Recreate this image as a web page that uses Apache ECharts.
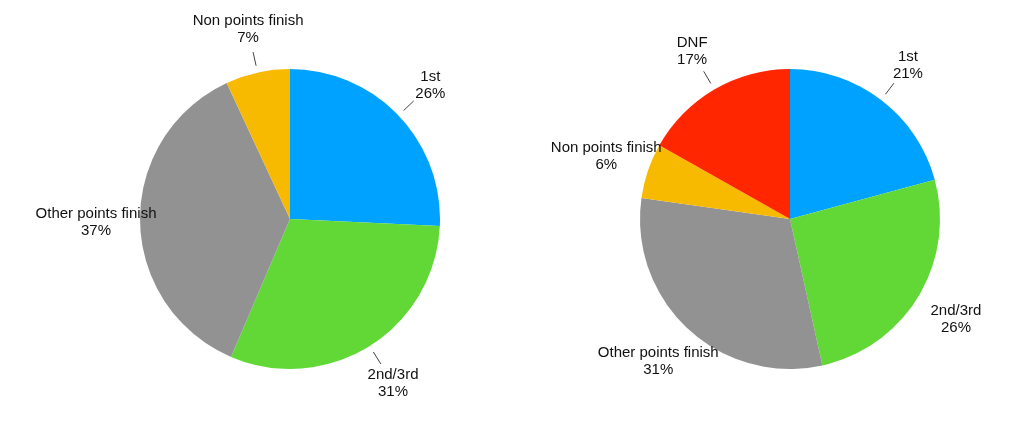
<!DOCTYPE html>
<html lang="en">

<head>
	<meta charset="UTF-8">
	<title>pie_results</title>
	<style>
		html, body { margin: 0; padding: 0; background: #FFF; }
	</style>
</head>

<body>
	<div id="chart" style="height:447px;width:1024px;"></div>
</body>
<script type="text/javascript" src="https://cdn.jsdelivr.net/npm/echarts@6/dist/echarts.min.js"></script>
<script type="text/javascript">
	// 左边饼图
	let leftNames = ['1st', '2nd/3rd', 'Other points finish', 'Non points finish'];
	let leftValues = [26, 31, 37, 7];
	let leftColors = ['#00A2FF', '#61D836', '#929292', '#F8BA00'];
	// 右边饼图
	let rightNames = ['1st', '2nd/3rd', 'Other points finish', 'Non points finish', 'DNF'];
	let rightValues = [21, 26, 31, 6, 17];
	let rightColors = ['#00A2FF', '#61D836', '#929292', '#F8BA00', '#FF2600'];

	const RADIUS = 150;
	const LABEL_DIST = 44;   // 标签中心到饼边缘的距离
	const LINE_FROM = 7;
	const LINE_TO = 21;

	let myChart = echarts.init(document.getElementById('chart'));

	function toData(names, values, colors) {
		return names.map(function (n, i) {
			return { name: n, value: values[i], itemStyle: { color: colors[i] } };
		});
	}

	// 把标签放到径向方向上, 文字居中; 标签压住饼或者太横的时候不画线
	function placeLabel(params) {
		let pts = params.labelLinePoints;
		if (!pts) return {};
		let p0 = pts[0], p1 = pts[1];
		let dx = p1[0] - p0[0], dy = p1[1] - p0[1];
		let len = Math.sqrt(dx * dx + dy * dy) || 1;
		dx /= len; dy /= len;
		let ox = p0[0] - dx * RADIUS, oy = p0[1] - dy * RADIUS; // 圆心
		let cx = p0[0] + dx * LABEL_DIST;
		let cy = p0[1] + dy * LABEL_DIST;
		let w = params.labelRect.width, h = params.labelRect.height;
		let a = [p0[0] + dx * LINE_FROM, p0[1] + dy * LINE_FROM];
		let b = [p0[0] + dx * LINE_TO, p0[1] + dy * LINE_TO];
		// 文字框离圆心最近的点
		let nx = Math.min(Math.max(ox, cx - w / 2), cx + w / 2);
		let ny = Math.min(Math.max(oy, cy - h / 2), cy + h / 2);
		let near = Math.sqrt((nx - ox) * (nx - ox) + (ny - oy) * (ny - oy));
		if (near < RADIUS || Math.abs(dx) > 0.8) {
			b = a.slice();
		}
		return {
			x: cx,
			y: cy,
			align: 'center',
			verticalAlign: 'middle',
			labelLinePoints: [a, b, b]
		};
	}

	function getSeries(center, data) {
		return {
			type: 'pie',
			center: center,
			radius: RADIUS,
			startAngle: 90,
			clockwise: true,
			avoidLabelOverlap: false,
			animation: false,
			silent: true,
			emphasis: { disabled: true },
			itemStyle: { borderWidth: 0 },
			label: {
				show: true,
				position: 'outside',
				formatter: '{b}\n{c}%',
				color: '#111',
				fontSize: 15,
				lineHeight: 17,
				fontFamily: 'Liberation Sans, Arial, sans-serif',
				align: 'center'
			},
			labelLine: {
				show: true,
				length: 12,
				length2: 0,
				smooth: false,
				lineStyle: { color: '#444', width: 1 }
			},
			labelLayout: placeLabel,
			data: data
		};
	}

	myChart.setOption({
		backgroundColor: '#FFF',
		series: [
			getSeries([290, 219], toData(leftNames, leftValues, leftColors)),
			getSeries([790, 219], toData(rightNames, rightValues, rightColors))
		]
	});
</script>

</html>
